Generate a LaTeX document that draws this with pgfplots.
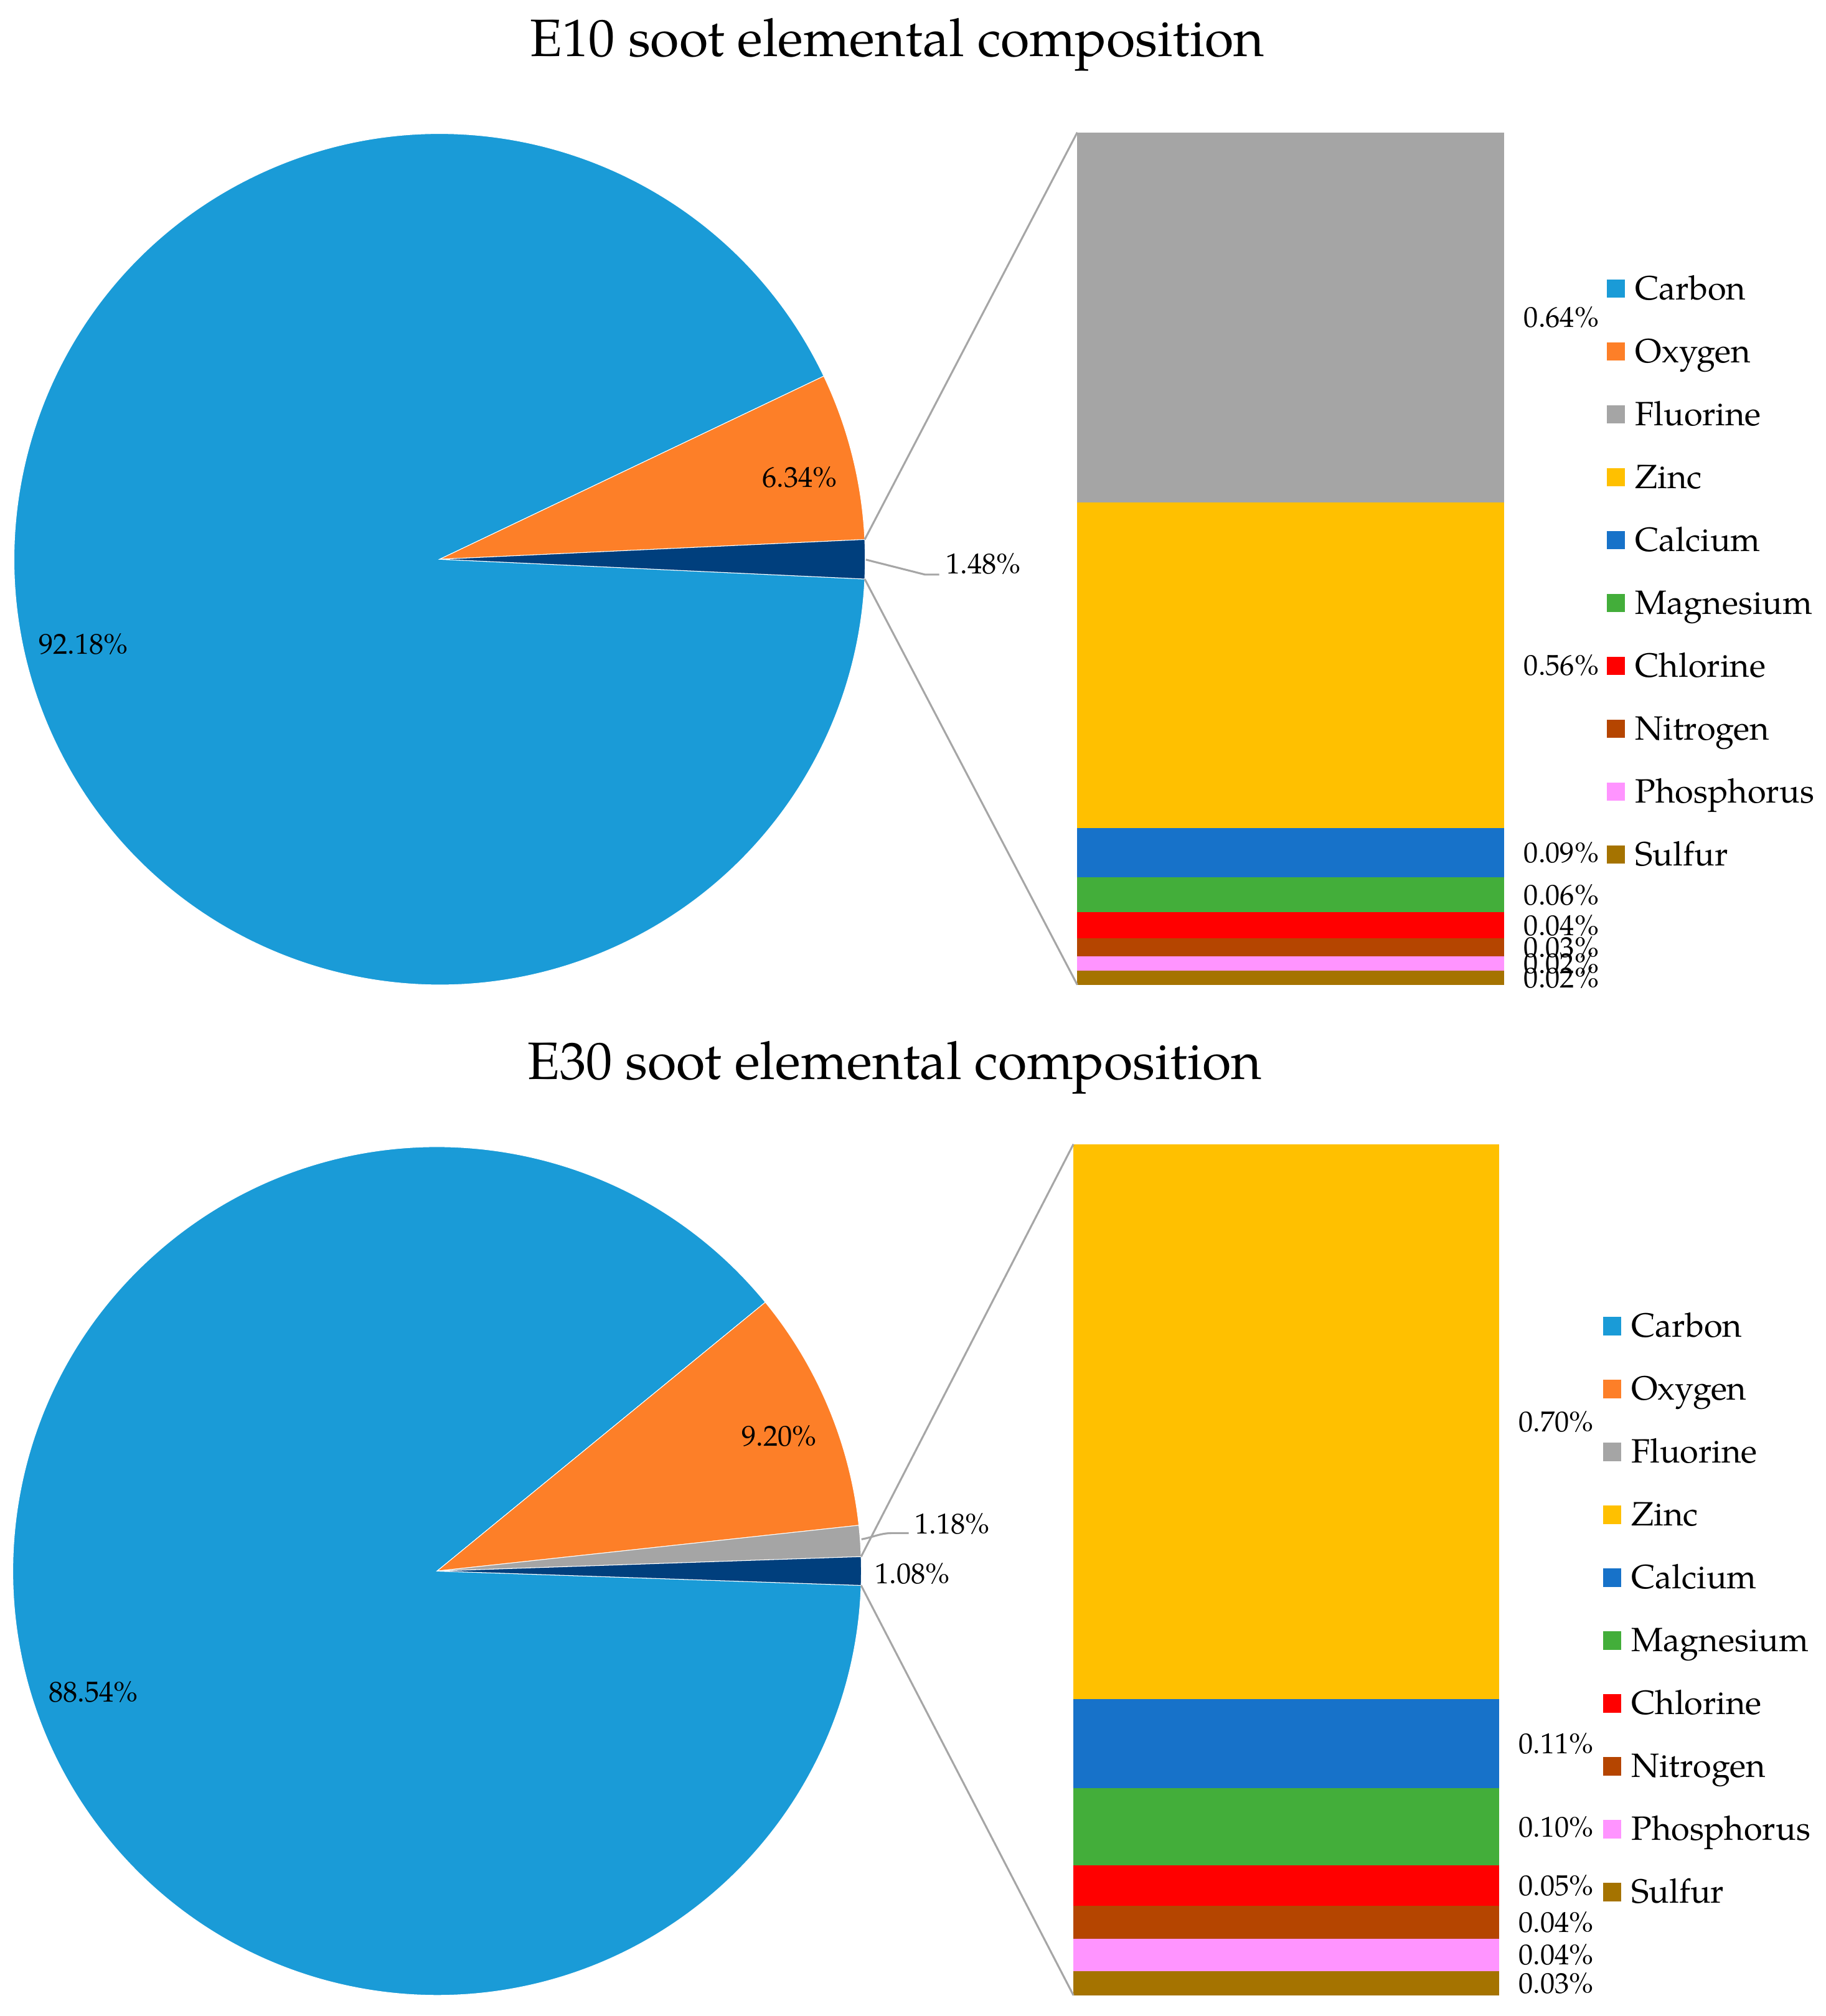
\documentclass[border=0pt]{standalone}
\usepackage{pgfplots}
\pgfplotsset{compat=1.18}
\usepackage{fontspec}
\setmainfont{TeX Gyre Pagella}
\definecolor{ccarbon}{HTML}{1A9BD7}
\definecolor{coxygen}{HTML}{FD7F28}
\definecolor{cother}{HTML}{003F7D}
\definecolor{cfluor}{HTML}{A5A5A5}
\definecolor{czinc}{HTML}{FFC000}
\definecolor{ccalc}{HTML}{1772C9}
\definecolor{cmagn}{HTML}{43AE3A}
\definecolor{cchlor}{HTML}{FF0000}
\definecolor{cnitro}{HTML}{B54500}
\definecolor{cphos}{HTML}{FF94FF}
\definecolor{csulf}{HTML}{A57300}
\definecolor{cline}{HTML}{A6A6A6}
% pie data (percent)
\def\TenC{92.18}\def\TenO{6.34}\def\TenR{1.48}
\def\ThiC{88.54}\def\ThiO{9.20}\def\ThiF{1.18}\def\ThiR{1.08}
\newcommand\lstrut{\rule[-4.2pt]{0pt}{13.6pt}}
\pgfplotsset{
  legimg/.style={legend image code/.code={\fill[##1, draw=none] (0cm,-0.12cm) rectangle (0.2cm,0.08cm);}},
  mylegend/.style={width=1cm, height=1cm, scale only axis, hide axis,
    xmin=0, xmax=1, ymin=0, ymax=1, anchor=north west, legimg,
    legend cell align=left,
    legend style={at={(0,1)}, anchor=north west, draw=none, fill=none,
      inner sep=0pt, outer sep=0pt, row sep=8.7pt, column sep=0.11cm,
      font=\fontsize{10.5}{12.6}\selectfont, nodes={inner sep=0pt}}},
}
\tikzset{barlab/.style={anchor=west, inner sep=0pt, xshift=0.211cm, font=\fontsize{9}{10}\selectfont}}
\begin{document}
\begin{tikzpicture}
\useasboundingbox (0,0) rectangle (20cm,-22.0845cm);
\begin{scope}[x=0.0140845cm, y=-0.0140845cm]
\coordinate (pc1) at (342,435);
\coordinate (bb1) at (838,766);
\coordinate (lg1) at (1250,209.5);
\coordinate (pc2) at (340,1222);
\coordinate (bb2) at (835,1552);
\coordinate (lg2) at (1247,1016.5);
\end{scope}

% ---------- E10 pie ----------
\pgfmathsetmacro\Aa{\TenR*1.8}
\pgfmathsetmacro\Ab{\Aa+\TenO*3.6}
\pgfmathsetmacro\Ac{\Ab+\TenC*3.6}
\begin{axis}[at={(pc1)}, anchor=center, width=9.324cm, height=9.324cm, scale only axis,
  hide axis, clip=false, xmin=-1, xmax=1, ymin=-1, ymax=1]
\fill[ccarbon, draw=white, line width=0.2pt] (axis cs:0,0) -- ++(\Ab:4.662cm) arc[start angle=\Ab, end angle=\Ac, radius=4.662cm] -- cycle;
\fill[coxygen, draw=white, line width=0.2pt] (axis cs:0,0) -- ++(\Aa:4.662cm) arc[start angle=\Aa, end angle=\Ab, radius=4.662cm] -- cycle;
\fill[cother, draw=white, line width=0.2pt] (axis cs:0,0) -- ++(-\Aa:4.662cm) arc[start angle=-\Aa, end angle=\Aa, radius=4.662cm] -- cycle;
\path (axis cs:0,0) ++(\Aa:4.662cm) coordinate (p1a);
\path (axis cs:0,0) ++(-\Aa:4.662cm) coordinate (p1b);
\end{axis}

% ---------- E10 bar ----------
\begin{axis}[at={(bb1)}, anchor=south west, width=4.676cm, height=9.338cm, scale only axis,
  hide axis, clip=false, xmin=-0.5, xmax=0.5, ymin=0, ymax=1.482,
  ybar stacked, bar width=4.676cm]
\addplot[fill=csulf, draw=none] coordinates {(0,0.025)};
\addplot[fill=cphos, draw=none] coordinates {(0,0.025)};
\addplot[fill=cnitro, draw=none] coordinates {(0,0.031)};
\addplot[fill=cchlor, draw=none] coordinates {(0,0.045)};
\addplot[fill=cmagn, draw=none] coordinates {(0,0.061)};
\addplot[fill=ccalc, draw=none] coordinates {(0,0.085)};
\addplot[fill=czinc, draw=none] coordinates {(0,0.567)};
\addplot[fill=cfluor, draw=none] coordinates {(0,0.643)};
\coordinate (b1t) at (axis cs:-0.5,1.482);
\coordinate (b1b) at (axis cs:-0.5,0);
\node[barlab] at (axis cs:0.5,0.0125) {0.02\%};
\node[barlab] at (axis cs:0.5,0.0375) {0.02\%};
\node[barlab] at (axis cs:0.5,0.0655) {0.03\%};
\node[barlab] at (axis cs:0.5,0.1035) {0.04\%};
\node[barlab] at (axis cs:0.5,0.1565) {0.06\%};
\node[barlab] at (axis cs:0.5,0.2295) {0.09\%};
\node[barlab] at (axis cs:0.5,0.5555) {0.56\%};
\node[barlab] at (axis cs:0.5,1.1605) {0.64\%};
\end{axis}

% ---------- E10 legend ----------
\begin{axis}[at={(lg1)}, mylegend]
\addlegendimage{fill=ccarbon}\addlegendentry{\lstrut Carbon}
\addlegendimage{fill=coxygen}\addlegendentry{\lstrut Oxygen}
\addlegendimage{fill=cfluor}\addlegendentry{\lstrut Fluorine}
\addlegendimage{fill=czinc}\addlegendentry{\lstrut Zinc}
\addlegendimage{fill=ccalc}\addlegendentry{\lstrut Calcium}
\addlegendimage{fill=cmagn}\addlegendentry{\lstrut Magnesium}
\addlegendimage{fill=cchlor}\addlegendentry{\lstrut Chlorine}
\addlegendimage{fill=cnitro}\addlegendentry{\lstrut Nitrogen}
\addlegendimage{fill=cphos}\addlegendentry{\lstrut Phosphorus}
\addlegendimage{fill=csulf}\addlegendentry{\lstrut Sulfur}
\end{axis}

% ---------- E30 pie ----------
\pgfmathsetmacro\Ba{\ThiR*1.8}
\pgfmathsetmacro\Bb{\Ba+\ThiF*3.6}
\pgfmathsetmacro\Bc{\Bb+\ThiO*3.6}
\pgfmathsetmacro\Bd{\Bc+\ThiC*3.6}
\begin{axis}[at={(pc2)}, anchor=center, width=9.296cm, height=9.296cm, scale only axis,
  hide axis, clip=false, xmin=-1, xmax=1, ymin=-1, ymax=1]
\fill[ccarbon, draw=white, line width=0.2pt] (axis cs:0,0) -- ++(\Bc:4.648cm) arc[start angle=\Bc, end angle=\Bd, radius=4.648cm] -- cycle;
\fill[coxygen, draw=white, line width=0.2pt] (axis cs:0,0) -- ++(\Bb:4.648cm) arc[start angle=\Bb, end angle=\Bc, radius=4.648cm] -- cycle;
\fill[cfluor, draw=white, line width=0.2pt] (axis cs:0,0) -- ++(\Ba:4.648cm) arc[start angle=\Ba, end angle=\Bb, radius=4.648cm] -- cycle;
\fill[cother, draw=white, line width=0.2pt] (axis cs:0,0) -- ++(-\Ba:4.648cm) arc[start angle=-\Ba, end angle=\Ba, radius=4.648cm] -- cycle;
\path (axis cs:0,0) ++(\Ba:4.648cm) coordinate (p2a);
\path (axis cs:0,0) ++(-\Ba:4.648cm) coordinate (p2b);
\end{axis}

% ---------- E30 bar ----------
\begin{axis}[at={(bb2)}, anchor=south west, width=4.662cm, height=9.324cm, scale only axis,
  hide axis, clip=false, xmin=-0.5, xmax=0.5, ymin=0, ymax=1.081,
  ybar stacked, bar width=4.662cm]
\addplot[fill=csulf, draw=none] coordinates {(0,0.031)};
\addplot[fill=cphos, draw=none] coordinates {(0,0.041)};
\addplot[fill=cnitro, draw=none] coordinates {(0,0.042)};
\addplot[fill=cchlor, draw=none] coordinates {(0,0.051)};
\addplot[fill=cmagn, draw=none] coordinates {(0,0.098)};
\addplot[fill=ccalc, draw=none] coordinates {(0,0.113)};
\addplot[fill=czinc, draw=none] coordinates {(0,0.705)};
\coordinate (b2t) at (axis cs:-0.5,1.081);
\coordinate (b2b) at (axis cs:-0.5,0);
\node[barlab] at (axis cs:0.5,0.0155) {0.03\%};
\node[barlab] at (axis cs:0.5,0.0515) {0.04\%};
\node[barlab] at (axis cs:0.5,0.093) {0.04\%};
\node[barlab] at (axis cs:0.5,0.1395) {0.05\%};
\node[barlab] at (axis cs:0.5,0.214) {0.10\%};
\node[barlab] at (axis cs:0.5,0.3195) {0.11\%};
\node[barlab] at (axis cs:0.5,0.7285) {0.70\%};
\end{axis}

% ---------- E30 legend ----------
\begin{axis}[at={(lg2)}, mylegend]
\addlegendimage{fill=ccarbon}\addlegendentry{\lstrut Carbon}
\addlegendimage{fill=coxygen}\addlegendentry{\lstrut Oxygen}
\addlegendimage{fill=cfluor}\addlegendentry{\lstrut Fluorine}
\addlegendimage{fill=czinc}\addlegendentry{\lstrut Zinc}
\addlegendimage{fill=ccalc}\addlegendentry{\lstrut Calcium}
\addlegendimage{fill=cmagn}\addlegendentry{\lstrut Magnesium}
\addlegendimage{fill=cchlor}\addlegendentry{\lstrut Chlorine}
\addlegendimage{fill=cnitro}\addlegendentry{\lstrut Nitrogen}
\addlegendimage{fill=cphos}\addlegendentry{\lstrut Phosphorus}
\addlegendimage{fill=csulf}\addlegendentry{\lstrut Sulfur}
\end{axis}

% ---------- connectors ----------
\draw[cline, line width=0.6pt] (p1a) -- (b1t);
\draw[cline, line width=0.6pt] (p1b) -- (b1b);
\draw[cline, line width=0.6pt] (p2a) -- (b2t);
\draw[cline, line width=0.6pt] (p2b) -- (b2b);

% ---------- titles and pie labels ----------
\begin{scope}[x=0.0140845cm, y=-0.0140845cm]
\node[anchor=base, inner sep=0pt, font=\fontsize{16.4}{19}\selectfont] at (698,43.6) {E10 soot elemental composition};
\node[anchor=base, inner sep=0pt, font=\fontsize{16.4}{19}\selectfont] at (696,839.6) {E30 soot elemental composition};
\begin{scope}[every node/.style={inner sep=0pt, font=\fontsize{9}{10}\selectfont}]
\node[anchor=center] at (65,501) {92.18\%};
\node[anchor=center] at (622,371) {6.34\%};
\draw[cline, line width=0.6pt] (673.5,435.3) -- (719.4,446.9) -- (730.6,446.9);
\node[anchor=west] at (735.4,438.6) {1.48\%};
\node[anchor=center] at (72.5,1316) {88.54\%};
\node[anchor=center] at (606,1117) {9.20\%};
\draw[cline, line width=0.6pt] (670.1,1197.3) to[out=10,in=180] (694.2,1192.5) -- (706.9,1192.5);
\node[anchor=west] at (711.2,1185.3) {1.18\%};
\node[anchor=west] at (680.2,1223.9) {1.08\%};
\end{scope}
\end{scope}
\end{tikzpicture}
\end{document}
